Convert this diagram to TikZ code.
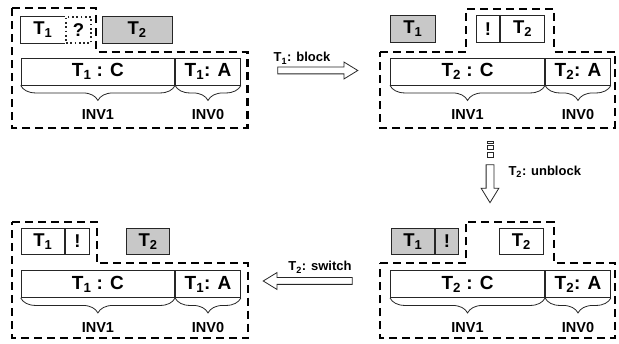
\documentclass[tikz,border=0pt]{standalone}
\usepackage{fontspec}
\setmainfont{Liberation Sans}
\usetikzlibrary{positioning, shapes.arrows, decorations.pathreplacing}
\definecolor{cellgray}{HTML}{C8C8C8}
\newcommand{\thr}[1]{T\textsubscript{#1}}

\begin{document}
\begin{tikzpicture}[x=1pt, y=-1pt,
  cell/.style={rectangle, draw=black!85, line width=0.8pt, minimum height=26.5pt, inner sep=0pt, font=\bfseries\fontsize{18.5}{18.5}\selectfont},
  bare/.style={cell, draw=none},
  busy/.style={cell, fill=cellgray},
  pending/.style={cell, line width=1.7pt, dash pattern=on 1.7pt off 2.6pt},
  ctx/.style={cell, minimum height=26.7pt, font=\bfseries\fontsize{19}{19}\selectfont},
  panel/.style={line width=2.2pt, dash pattern=on 8pt off 5pt},
  invbrace/.style={decorate, decoration={brace, mirror, amplitude=15pt}, draw=black!85, line width=0.8pt},
  inv/.style={below=24pt, inner sep=0pt, font=\bfseries\fontsize{14.5}{14.5}\selectfont},
  transit/.style={single arrow, draw=black!85, line width=0.8pt, inner sep=3pt, single arrow head extend=5pt, single arrow tip angle=63, minimum height=#1},
  steptext/.style={inner sep=0pt, font=\bfseries\fontsize{13}{13}\selectfont}]

  \useasboundingbox (0,0) rectangle (619,344);

  \node[bare, minimum width=43.6pt, anchor=west] (tlA) at (20.7,30) {\thr{1}};
  \node[pending, minimum width=25pt, right=0pt of tlA] (tlQ) {?};
  \draw[draw=black!85, line width=0.8pt] (tlA.north east) -- (tlA.north west) -- (tlA.south west) -- (tlA.south east);
  \node[busy, minimum width=70pt, anchor=west] (tlB) at (101.7,30) {\thr{2}};
  \node[ctx, minimum width=153.6pt, anchor=west] (tlC) at (20.7,71.7) {\thr{1} : C};
  \node[ctx, minimum width=65pt, right=0pt of tlC] (tlD) {\thr{1}: A};
  \draw[invbrace] (tlC.south west) -- node[inv] {INV1} (tlC.south east);
  \draw[invbrace] (tlD.south west) -- node[inv] {INV0} (tlD.south east);
  \draw[panel] (12,8.3) -- (96.3,8.3) -- (96.3,51.7) -- (247.5,51.7) -- (247.5,127.7) -- (12,127.7) -- cycle;

  \node[busy, minimum width=45pt, anchor=west] (trA) at (390,29) {\thr{1}};
  \node[cell, minimum width=23.3pt, anchor=west] (trQ) at (476,29) {!};
  \node[cell, minimum width=44pt, right=0pt of trQ] (trB) {\thr{2}};
  \node[ctx, minimum width=154.3pt, anchor=west] (trC) at (390,71.7) {\thr{2} : C};
  \node[ctx, minimum width=65pt, right=0pt of trC] (trD) {\thr{2}: A};
  \draw[invbrace] (trC.south west) -- node[inv] {INV1} (trC.south east);
  \draw[invbrace] (trD.south west) -- node[inv] {INV0} (trD.south east);
  \draw[panel] (380,51.7) -- (466,51.7) -- (466,9) -- (554.3,9) -- (554.3,51.7) -- (615,51.7) -- (615,127.7) -- (380,127.7) -- cycle;

  \node[cell, minimum width=43.6pt, anchor=west] (blA) at (20.7,241.2) {\thr{1}};
  \node[cell, minimum width=24pt, right=0pt of blA] (blQ) {!};
  \node[busy, minimum width=43.3pt, anchor=west] (blB) at (126,241.2) {\thr{2}};
  \node[ctx, minimum width=153.6pt, anchor=west] (blC) at (20.7,284.2) {\thr{1} : C};
  \node[ctx, minimum width=65pt, right=0pt of blC] (blD) {\thr{1}: A};
  \draw[invbrace] (blC.south west) -- node[inv] {INV1} (blC.south east);
  \draw[invbrace] (blD.south west) -- node[inv] {INV0} (blD.south east);
  \draw[panel] (12,221.7) -- (96.7,221.7) -- (96.7,263.3) -- (248,263.3) -- (248,338.3) -- (12,338.3) -- cycle;

  \node[busy, minimum width=43.3pt, anchor=west] (brA) at (390.7,241.2) {\thr{1}};
  \node[busy, minimum width=23.3pt, right=0pt of brA] (brQ) {!};
  \node[cell, minimum width=43.4pt, anchor=west] (brB) at (499.3,241.2) {\thr{2}};
  \node[ctx, minimum width=154.3pt, anchor=west] (brC) at (390,284.2) {\thr{2} : C};
  \node[ctx, minimum width=65pt, right=0pt of brC] (brD) {\thr{2}: A};
  \draw[invbrace] (brC.south west) -- node[inv] {INV1} (brC.south east);
  \draw[invbrace] (brD.south west) -- node[inv] {INV0} (brD.south east);
  \draw[panel] (380,263.3) -- (466,263.3) -- (466,221.7) -- (554.3,221.7) -- (554.3,263.3) -- (615,263.3) -- (615,338.3) -- (380,338.3) -- cycle;

  \node[transit=80pt] (block) at (315,70.5) {};
  \node[steptext] (blocktxt) at (302,58.3) {\thr{1}: block};

  \node[transit=38pt, shape border rotate=270, inner sep=3.5pt] (unblock) at (490,180.5) {};
  \draw[draw=black!85, line width=0.7pt] (487,141) rectangle (493,143.5);
  \draw[draw=black!85, line width=0.7pt] (487,145.5) rectangle (493,149.5);
  \draw[draw=black!85, line width=0.7pt] (487,152) rectangle (493,157.5);
  \node[steptext, anchor=west] (unblocktxt) at (508.3,171.7) {\thr{2}: unblock};

  \node[transit=89pt, shape border rotate=180] (switch) at (310.5,281) {};
  \node[steptext] (switchtxt) at (320,267.3) {\thr{2}: switch};
\end{tikzpicture}
\end{document}
